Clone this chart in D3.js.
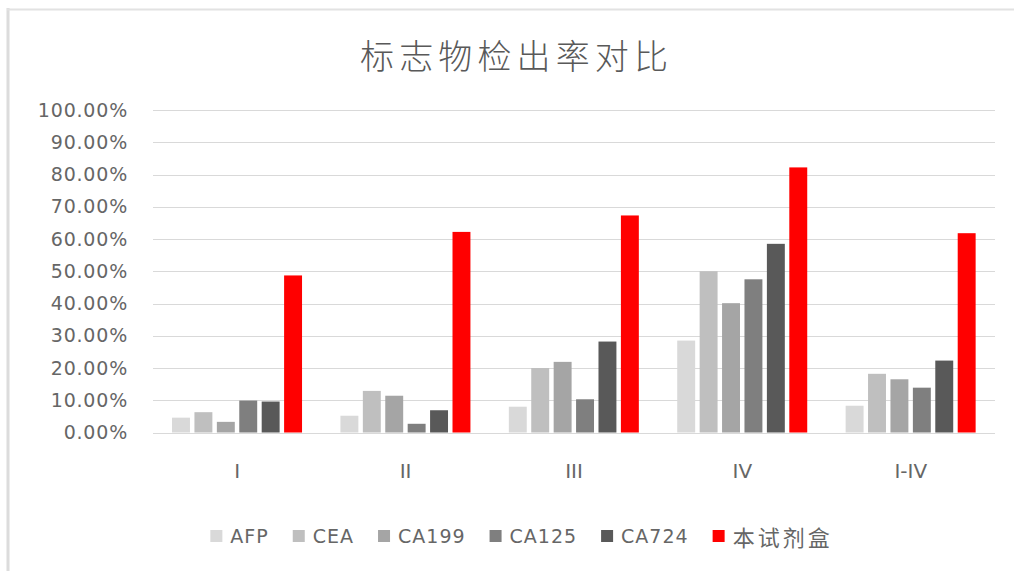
<!DOCTYPE html>
<html>
<head>
<meta charset="utf-8">
<script src="https://cdn.jsdelivr.net/npm/d3@7"></script>
<style>
  html, body { margin: 0; padding: 0; background: #fff; }
  svg { display: block; }
</style>
</head>
<body>
<svg id="chart" width="1014" height="571"></svg>
<script>
// ---- data ----
const categories = ["I", "II", "III", "IV", "I-IV"];
const seriesNames = ["AFP", "CEA", "CA199", "CA125", "CA724", "本试剂盒"];
const afpValues   = [4.6, 5.2, 8.0, 28.5, 8.3];
const ceaValues   = [6.3, 12.9, 20.0, 50.0, 18.2];
const ca199Values = [3.3, 11.4, 21.9, 40.1, 16.5];
const ca125Values = [9.9, 2.7, 10.3, 47.5, 13.9];
const ca724Values = [9.6, 6.9, 28.2, 58.5, 22.3];
const kitValues   = [48.7, 62.2, 67.3, 82.2, 61.8];
const yTickValues = [0, 10, 20, 30, 40, 50, 60, 70, 80, 90, 100];
const titleText = "标志物检出率对比";

const seriesValues = [afpValues, ceaValues, ca199Values, ca125Values, ca724Values, kitValues];
const seriesColors = ["#d9d9d9", "#bfbfbf", "#a5a5a5", "#7f7f7f", "#595959", "#ff0000"];

// ---- layout ----
const svg = d3.select("#chart");
const plotLeft = 153, plotRight = 995, plotTop = 110, plotBottom = 432.5;
const textColor = "#666666";
const latinFont = "'DejaVu Sans', sans-serif";
const cjkFont = "'Noto Sans CJK SC', sans-serif";
const isCjk = s => /[\u4e00-\u9fff]/.test(s);

// chart frame (left and top edges visible)
svg.append("line").attr("x1", 8).attr("x2", 8).attr("y1", 8).attr("y2", 571)
  .attr("stroke", "#dcdcdc").attr("stroke-width", 3);
svg.append("line").attr("x1", 7).attr("x2", 1014).attr("y1", 9.5).attr("y2", 9.5)
  .attr("stroke", "#e2e2e2").attr("stroke-width", 2);

// title
svg.append("text")
  .attr("x", 514).attr("y", 54)
  .attr("text-anchor", "middle").attr("dominant-baseline", "central")
  .attr("font-family", cjkFont).attr("font-size", 34).attr("font-weight", 300)
  .attr("textLength", 308).attr("lengthAdjust", "spacing")
  .attr("fill", "#595959")
  .text(titleText);

// scales
const x0 = d3.scaleBand().domain(categories).range([plotLeft, plotRight]).padding(0);
const bw = x0.bandwidth();
const x1 = d3.scaleBand().domain(seriesNames).range([bw * 0.113, bw * 0.885]).paddingInner(0.2).paddingOuter(0);
const y = d3.scaleLinear().domain([0, 100]).range([plotBottom, plotTop]);

// gridlines
svg.append("g").selectAll("line").data(yTickValues).join("line")
  .attr("x1", plotLeft).attr("x2", plotRight)
  .attr("y1", d => Math.round(y(d)) + 0.5).attr("y2", d => Math.round(y(d)) + 0.5)
  .attr("stroke", "#d9d9d9").attr("stroke-width", 1);

// y axis labels
const yAxis = d3.axisLeft(y).tickValues(yTickValues)
  .tickFormat(d => d.toFixed(2) + "%").tickSize(0).tickPadding(25);
const yG = svg.append("g").attr("transform", `translate(${plotLeft},0)`).call(yAxis);
yG.select(".domain").remove();
yG.selectAll("text")
  .attr("font-family", latinFont).attr("font-size", 19)
  .attr("letter-spacing", "0.8px")
  .attr("fill", textColor);

// x axis labels
const xAxis = d3.axisBottom(x0).tickSize(0).tickPadding(0);
const xG = svg.append("g").attr("transform", `translate(0,${plotBottom})`).call(xAxis);
xG.select(".domain").remove();
xG.selectAll("text")
  .attr("y", 471 - plotBottom).attr("dy", null)
  .attr("dominant-baseline", "central")
  .attr("font-family", latinFont).attr("font-size", 20)
  .attr("fill", textColor);

// bars
const groups = svg.append("g").selectAll("g").data(categories).join("g")
  .attr("transform", d => `translate(${x0(d)},0)`);
groups.selectAll("rect")
  .data((c, ci) => seriesNames.map((s, si) => ({ s, si, v: seriesValues[si][ci] })))
  .join("rect")
  .attr("x", d => x1(d.s))
  .attr("width", x1.bandwidth())
  .attr("y", d => y(d.v))
  .attr("height", d => y(0) - y(d.v))
  .attr("fill", d => seriesColors[d.si]);

// legend
const legendY = 536;
const legend = svg.append("g");
const items = legend.selectAll("g").data(seriesNames).join("g");
items.append("rect")
  .attr("x", 0).attr("y", legendY - 6).attr("width", 12).attr("height", 12)
  .attr("fill", (d, i) => seriesColors[i]);
items.append("text")
  .attr("x", 20).attr("y", legendY)
  .attr("dominant-baseline", "central")
  .attr("font-family", d => isCjk(d) ? cjkFont : latinFont)
  .attr("font-size", d => isCjk(d) ? 22 : 19)
  .attr("letter-spacing", d => isCjk(d) ? "3px" : "1px")
  .attr("fill", textColor)
  .text(d => d);
let cursor = 0;
const itemGap = 24;
const offsets = [];
items.each(function () {
  const w = d3.select(this).select("text").node().getComputedTextLength();
  offsets.push(cursor);
  cursor += 20 + w + itemGap;
});
const totalW = cursor - itemGap;
const legendStart = 521.5 - totalW / 2;
items.attr("transform", (d, i) => `translate(${legendStart + offsets[i]},0)`);
</script>
</body>
</html>
